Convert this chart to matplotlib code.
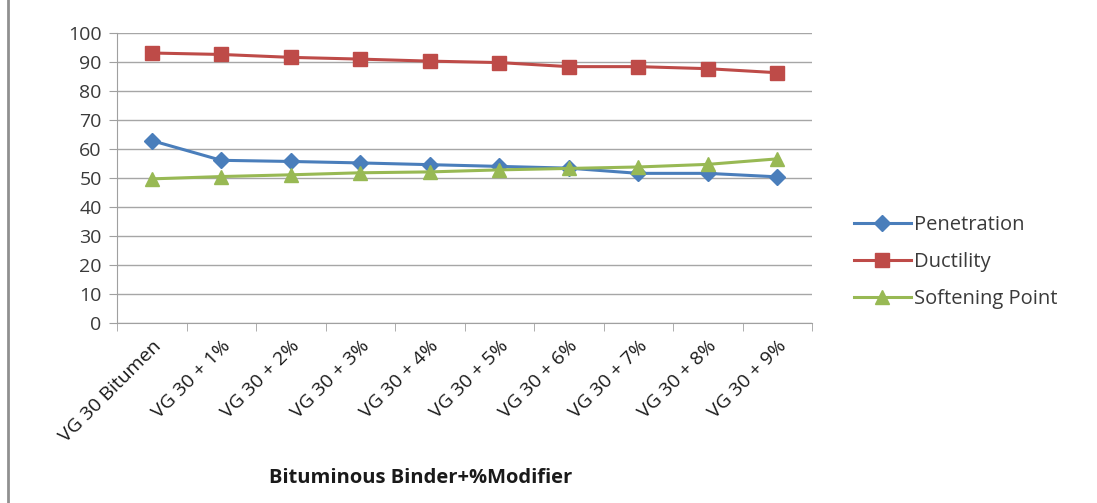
import matplotlib.pyplot as plt
from matplotlib.lines import Line2D

categories = ['VG 30 Bitumen', 'VG 30 + 1%', 'VG 30 + 2%', 'VG 30 + 3%', 'VG 30 + 4%',
              'VG 30 + 5%', 'VG 30 + 6%', 'VG 30 + 7%', 'VG 30 + 8%', 'VG 30 + 9%']
penetration = [62.9, 56.1, 55.7, 55.2, 54.6, 54.0, 53.4, 51.6, 51.6, 50.4]
ductility = [93.1, 92.6, 91.6, 91.0, 90.3, 89.8, 88.4, 88.4, 87.7, 86.3]
softening = [49.7, 50.5, 51.1, 51.8, 52.1, 52.8, 53.3, 53.8, 54.7, 56.6]

plt.rcParams['font.family'] = ['Open Sans', 'DejaVu Sans']

fig = plt.figure(figsize=(10.97, 5.03), dpi=100)
ax = fig.add_axes([117/1097, 1 - 323/503, (812-117)/1097, (323-33)/503])

x = list(range(len(categories)))
ax.plot(x, penetration, color='#4A7EBB', lw=2.2, marker='D', ms=8, label='Penetration')
ax.plot(x, ductility, color='#BE4B48', lw=2.2, marker='s', ms=10, label='Ductility')
ax.plot(x, softening, color='#98B954', lw=2.2, marker='^', ms=10, label='Softening Point')

ax.set_xlim(-0.5, len(categories) - 0.5)
ax.set_ylim(0, 100)
ax.set_yticks(range(0, 101, 10))
ax.tick_params(axis='y', labelsize=14, colors='#3a3a3a', length=6, color='#A0A0A0', pad=5)
ax.grid(axis='y', color='#A6A6A6', lw=1)
ax.set_axisbelow(True)

# category labels at the centres, tick marks at the boundaries
ax.set_xticks(x)
ax.set_xticklabels(categories, rotation=45, ha='right', rotation_mode='anchor', fontsize=14, color='#1a1a1a')
ax.tick_params(axis='x', length=0, pad=10)
ax.set_xticks([i - 0.5 for i in range(len(categories) + 1)], minor=True)
ax.tick_params(axis='x', which='minor', length=6, color='#A0A0A0')

for side in ['top', 'right']:
    ax.spines[side].set_visible(False)
for side in ['left', 'bottom']:
    ax.spines[side].set_color('#A0A0A0')

fig.text(421/1097, 1 - 478/503, 'Bituminous Binder+%Modifier', ha='center', va='center',
         fontsize=14.5, fontweight='bold', color='#1a1a1a')

leg = fig.legend(loc='upper left', bbox_to_anchor=(836/1097, 1 - 197/503), frameon=False,
                 fontsize=14.5, handlelength=2.8, labelspacing=0.85, handletextpad=0.15)
for t in leg.get_texts():
    t.set_color('#3a3a3a')

# grey frame edge on the left
fig.add_artist(Line2D([8/1097, 8/1097], [0, 1], transform=fig.transFigure, color='#909090', lw=2))

fig.savefig('out.png', dpi=100)
